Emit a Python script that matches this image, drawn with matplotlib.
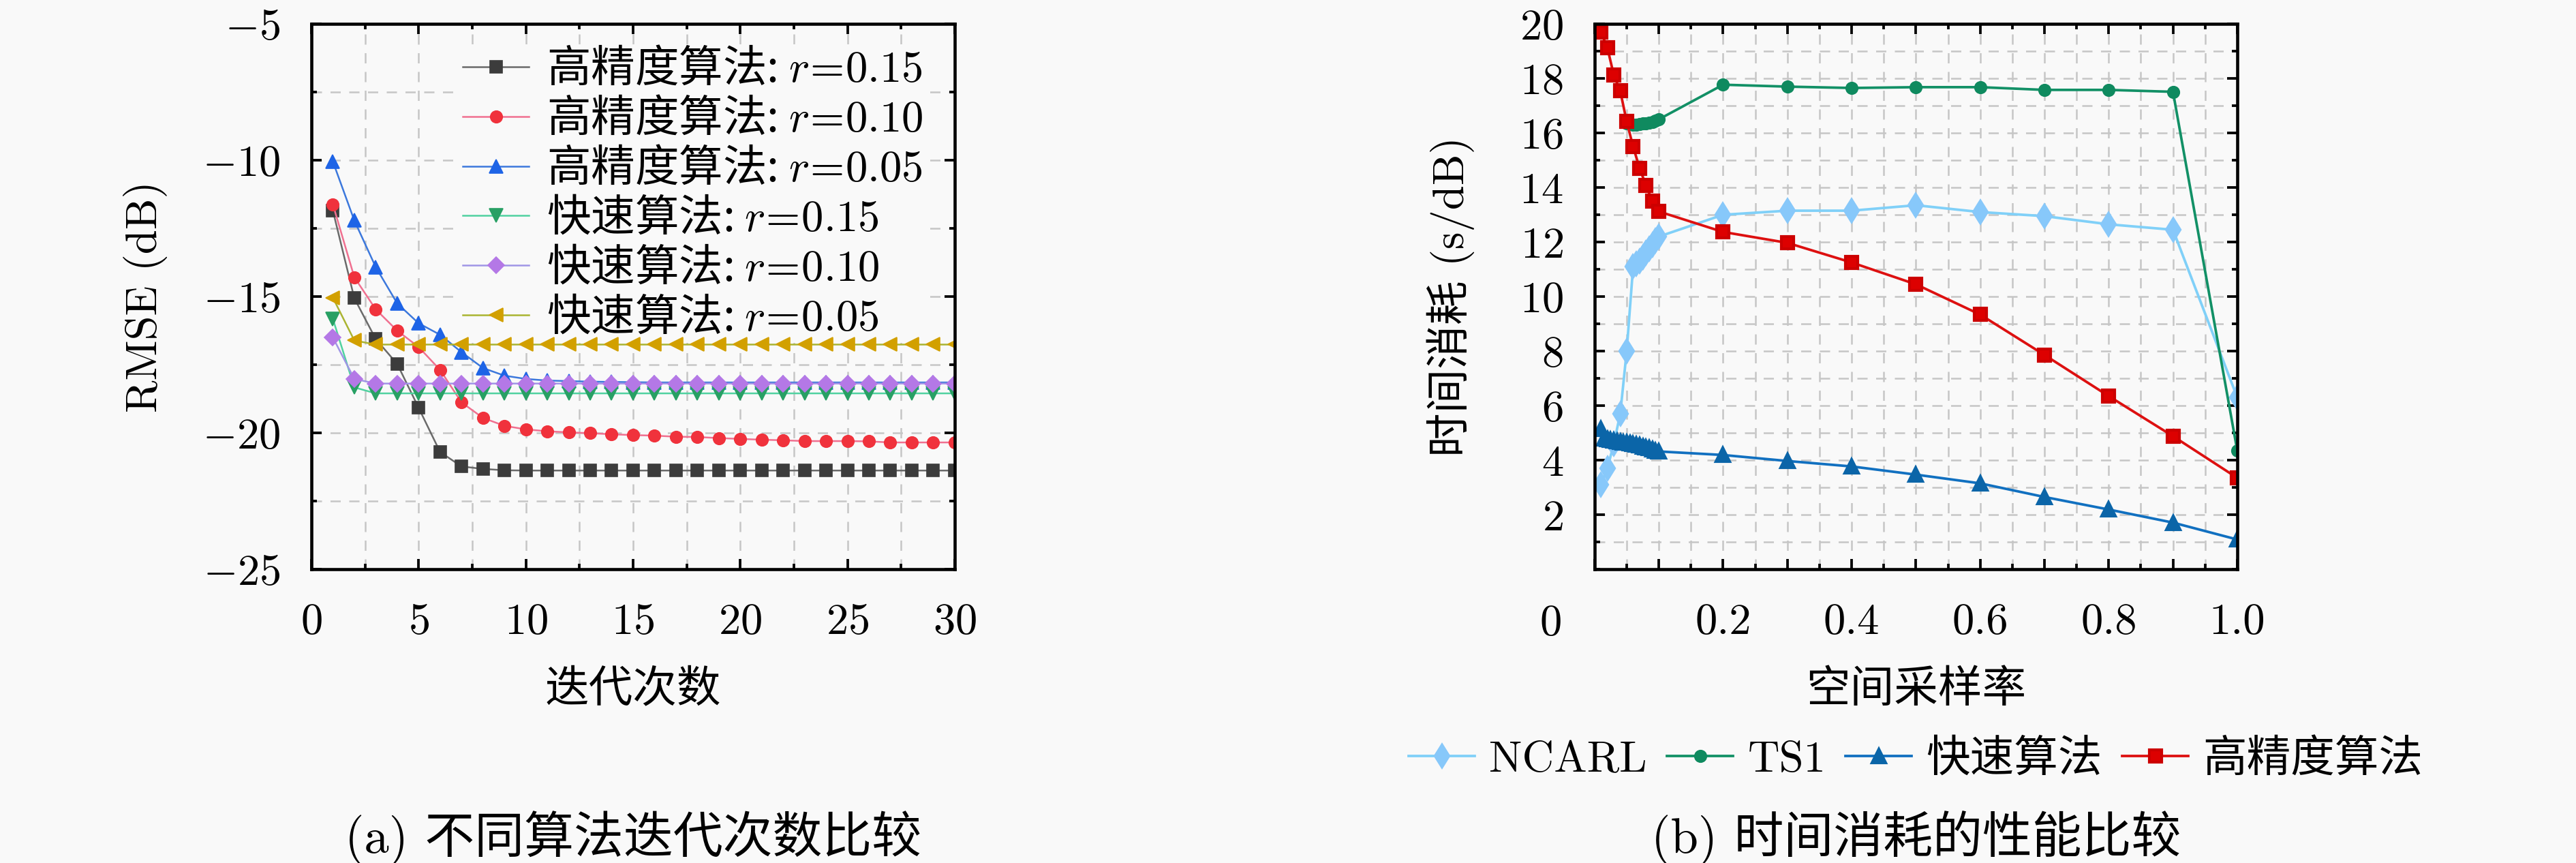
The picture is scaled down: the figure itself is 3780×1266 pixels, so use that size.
import matplotlib
matplotlib.use('Agg')
import matplotlib.pyplot as plt
from matplotlib.ticker import MultipleLocator, FixedLocator, FixedFormatter
from matplotlib.font_manager import FontProperties

plt.rcParams['font.family'] = ['cmr10', 'Noto Sans CJK SC', 'DejaVu Sans']
plt.rcParams['mathtext.fontset'] = 'cm'
plt.rcParams['axes.formatter.use_mathtext'] = True
plt.rcParams['axes.unicode_minus'] = True

BG = '#f9f9f9'
FS = 15.5

# ---------------- data: (a) RMSE vs iterations ----------------
iters = list(range(1, 31))
hp_r015 = [-11.85, -15.06, -16.56, -17.47, -19.08, -20.70, -21.23, -21.32, -21.37, -21.38,
           -21.38, -21.38, -21.38, -21.38, -21.38, -21.38, -21.38, -21.38, -21.38, -21.38,
           -21.38, -21.38, -21.38, -21.38, -21.38, -21.38, -21.38, -21.38, -21.38, -21.38]
hp_r010 = [-11.62, -14.29, -15.47, -16.25, -16.85, -17.69, -18.88, -19.45, -19.74, -19.87,
           -19.94, -19.98, -20.01, -20.05, -20.08, -20.10, -20.14, -20.15, -20.19, -20.22,
           -20.25, -20.27, -20.30, -20.30, -20.30, -20.31, -20.35, -20.35, -20.35, -20.35]
hp_r005 = [-10.05, -12.21, -13.92, -15.25, -15.98, -16.40, -17.04, -17.62, -17.90, -18.02,
           -18.08, -18.10, -18.12, -18.13, -18.14, -18.15, -18.15, -18.15, -18.15, -18.15,
           -18.15, -18.15, -18.15, -18.15, -18.15, -18.15, -18.15, -18.15, -18.15, -18.15]
fa_r015 = [-15.82, -18.33, -18.55, -18.55, -18.55, -18.55, -18.55, -18.55, -18.55, -18.55,
           -18.55, -18.55, -18.55, -18.55, -18.55, -18.55, -18.55, -18.55, -18.55, -18.55,
           -18.55, -18.55, -18.55, -18.55, -18.55, -18.55, -18.55, -18.55, -18.55, -18.55]
fa_r010 = [-16.50, -18.02, -18.19, -18.19, -18.19, -18.19, -18.19, -18.19, -18.19, -18.19,
           -18.19, -18.19, -18.19, -18.19, -18.19, -18.19, -18.19, -18.19, -18.19, -18.19,
           -18.19, -18.19, -18.19, -18.19, -18.19, -18.19, -18.19, -18.19, -18.19, -18.19]
fa_r005 = [-15.04, -16.61, -16.76, -16.76, -16.76, -16.76, -16.76, -16.76, -16.76, -16.76,
           -16.76, -16.76, -16.76, -16.76, -16.76, -16.76, -16.76, -16.76, -16.76, -16.76,
           -16.76, -16.76, -16.76, -16.76, -16.76, -16.76, -16.76, -16.76, -16.76, -16.76]
labels_a = [r'高精度算法: $r\!=\!0.15$', r'高精度算法: $r\!=\!0.10$',
            r'高精度算法: $r\!=\!0.05$', r'快速算法: $r\!=\!0.15$',
            r'快速算法: $r\!=\!0.10$', r'快速算法: $r\!=\!0.05$']

# ---------------- data: (b) time cost vs spatial sampling rate ----------------
ncarl_x = [0.01, 0.02, 0.03, 0.04, 0.05, 0.06, 0.065, 0.07, 0.075, 0.08, 0.085, 0.09, 0.095, 0.1,
           0.2, 0.3, 0.4, 0.5, 0.6, 0.7, 0.8, 0.9, 1.0]
ncarl_y = [3.1, 3.7, 4.6, 5.7, 8.0, 11.1, 11.2, 11.3, 11.45, 11.6, 11.75, 11.9, 12.05, 12.2,
           13.0, 13.15, 13.15, 13.35, 13.1, 12.95, 12.65, 12.45, 6.3]
ts1_x = [0.05, 0.055, 0.06, 0.065, 0.07, 0.075, 0.08, 0.085, 0.09, 0.095, 0.1,
         0.2, 0.3, 0.4, 0.5, 0.6, 0.7, 0.8, 0.9, 1.0]
ts1_y = [16.35, 16.32, 16.30, 16.30, 16.32, 16.34, 16.36, 16.38, 16.41, 16.45, 16.50,
         17.77, 17.70, 17.65, 17.68, 17.68, 17.58, 17.58, 17.51, 4.35]
fast_x = [0.01, 0.015, 0.02, 0.025, 0.03, 0.035, 0.04, 0.045, 0.05, 0.055, 0.06, 0.065, 0.07,
          0.075, 0.08, 0.085, 0.09, 0.095, 0.1, 0.2, 0.3, 0.4, 0.5, 0.6, 0.7, 0.8, 0.9, 1.0]
fast_y = [5.15, 4.80, 4.78, 4.75, 4.72, 4.70, 4.68, 4.66, 4.64, 4.62, 4.60, 4.57, 4.54,
          4.51, 4.48, 4.44, 4.40, 4.36, 4.32, 4.19, 3.97, 3.77, 3.47, 3.15, 2.65, 2.19, 1.71, 1.09]
hp_x = [0.01, 0.02, 0.03, 0.04, 0.05, 0.06, 0.07, 0.08, 0.09, 0.1,
        0.2, 0.3, 0.4, 0.5, 0.6, 0.7, 0.8, 0.9, 1.0]
hp_y = [19.70, 19.12, 18.12, 17.54, 16.42, 15.50, 14.71, 14.08, 13.50, 13.12,
        12.37, 11.97, 11.25, 10.45, 9.34, 7.86, 6.35, 4.88, 3.35]
labels_b = ['NCARL', 'TS1', '快速算法', '高精度算法']
xtick_b = [0.0, 0.1, 0.2, 0.3, 0.4, 0.5, 0.6, 0.7, 0.8, 0.9, 1.0]
xtick_b_labels = ['', '', '0.2', '', '0.4', '', '0.6', '', '0.8', '', '1.0']
ytick_b = [2, 4, 6, 8, 10, 12, 14, 16, 18, 20]

fig = plt.figure(figsize=(12.6, 4.22), dpi=300, facecolor=BG)
ax1 = fig.add_axes([0.1209, 0.3404, 0.2497, 0.6319])
ax2 = fig.add_axes([0.6190, 0.3404, 0.2495, 0.6319])


def style(ax):
    ax.set_facecolor(BG)
    for s in ax.spines.values():
        s.set_linewidth(1.1)
    ax.tick_params(which='both', direction='in', top=True, right=True, width=0.9,
                   labelsize=FS)
    ax.tick_params(which='major', length=3.5)
    ax.tick_params(which='minor', length=2.0)
    ax.tick_params(axis='x', which='both', pad=12)
    ax.tick_params(axis='y', which='both', pad=11)
    ax.grid(True, which='both', color='#c6c6c6', linestyle=(0, (6, 5)), linewidth=0.6)
    ax.set_axisbelow(True)


# ---------- (a) ----------
style(ax1)
series_a = [hp_r015, hp_r010, hp_r005, fa_r015, fa_r010, fa_r005]
markers_a = ['s', 'o', '^', 'v', 'D', '<']
line_cols = ['#6a6a6a', '#f07090', '#3c78dc', '#50d2a0', '#a096e6', '#aab432']
mark_cols = ['#3c3c3c', '#f0323c', '#1e64e6', '#28a064', '#b478e6', '#d2a000']
msizes = [4.2, 4.2, 5.0, 5.0, 4.0, 5.0]
for ys, m, lc, mc, ms, lab in zip(series_a, markers_a, line_cols, mark_cols, msizes, labels_a):
    ax1.plot(iters, ys, color=lc, lw=0.6, marker=m, ms=ms, mfc=mc, mec=mc, mew=0.4, label=lab)
ax1.set_xlim(0, 30)
ax1.set_ylim(-25, -5)
ax1.xaxis.set_major_locator(MultipleLocator(5))
ax1.xaxis.set_minor_locator(MultipleLocator(2.5))
ax1.yaxis.set_major_locator(MultipleLocator(5))
ax1.yaxis.set_minor_locator(MultipleLocator(2.5))
ax1.set_ylabel('RMSE (dB)', fontsize=FS)
ax1.yaxis.set_label_coords(-0.2235, 0.5)
ax1.set_xlabel('迭代次数', fontsize=FS, va='center')
ax1.xaxis.set_label_coords(0.5, -0.222)
leg_prop = FontProperties(family='Noto Sans CJK SC', size=FS)
leg1 = ax1.legend(loc='upper left', bbox_to_anchor=(0.232, 0.962), borderaxespad=0, borderpad=0.05,
                  prop=leg_prop, handlelength=1.5, handletextpad=0.4, labelspacing=0.1,
                  frameon=True, fancybox=False, framealpha=1.0)
leg1.get_frame().set_facecolor(BG)
leg1.get_frame().set_edgecolor('none')
leg1.set_zorder(1.5)

# ---------- (b) ----------
style(ax2)
ax2.plot(ncarl_x, ncarl_y, color='#80d0f8', lw=0.9, marker='d', ms=5.5, mfc='#87c8fa',
         mec='#87c8fa', label=labels_b[0])
ax2.plot(ts1_x, ts1_y, color='#129066', lw=0.9, marker='o', ms=3.6, mfc='#0f8a5f',
         mec='#0f8a5f', label=labels_b[1])
ax2.plot(fast_x, fast_y, color='#1170c0', lw=0.9, marker='^', ms=4.8, mfc='#0b65a8',
         mec='#0b65a8', label=labels_b[2])
ax2.plot(hp_x, hp_y, color='#dd1010', lw=0.9, marker='s', ms=4.4, mfc='#dd0000',
         mec='#cc0000', label=labels_b[3])
ax2.set_xlim(0, 1.0)
ax2.set_ylim(0, 20)
ax2.xaxis.set_major_locator(FixedLocator(xtick_b))
ax2.xaxis.set_major_formatter(FixedFormatter(xtick_b_labels))
ax2.xaxis.set_minor_locator(MultipleLocator(0.05))
ax2.yaxis.set_major_locator(FixedLocator(ytick_b))
ax2.yaxis.set_minor_locator(MultipleLocator(1))
ax2.text(-0.068, -0.065, '0', transform=ax2.transAxes, ha='center', va='top', fontsize=FS)
ax2.set_ylabel('时间消耗 (s/dB)', fontsize=FS)
ax2.yaxis.set_label_coords(-0.1866, 0.5)
ax2.set_xlabel('空间采样率', fontsize=FS, va='center')
ax2.xaxis.set_label_coords(0.5, -0.222)
leg2 = ax2.legend(loc='center', bbox_to_anchor=(0.5, -0.3496), ncol=4, fontsize=FS,
                  handlelength=1.5, handletextpad=0.33, columnspacing=0.45, borderpad=0.1,
                  frameon=False)

# ---------- captions ----------
fig.text(0.2458, 0.0284, '(a) 不同算法迭代次数比较', ha='center', va='center', fontsize=17.5)
fig.text(0.7439, 0.0284, '(b) 时间消耗的性能比较', ha='center', va='center', fontsize=17.5)

fig.savefig('out.png', dpi=300, facecolor=BG)
